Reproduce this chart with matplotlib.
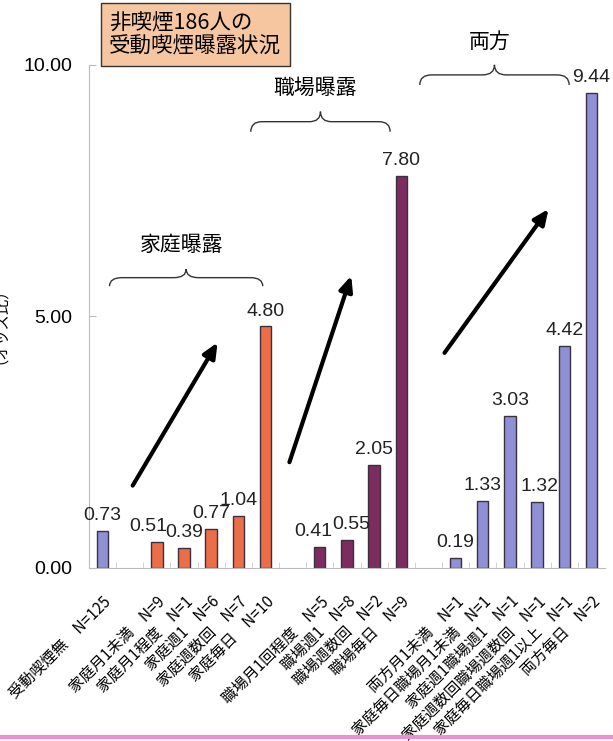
import matplotlib
matplotlib.use("Agg")
import matplotlib.pyplot as plt
from matplotlib.path import Path
from matplotlib.patches import PathPatch
import numpy as np

plt.rcParams['font.family'] = ['Noto Sans CJK JP', 'DejaVu Sans']
NUM_FONT = ['Liberation Sans Narrow', 'Liberation Sans', 'DejaVu Sans']

# category labels (blank = spacer slot between groups)
labels = [
    '受動喫煙無　N=125', '',
    '家庭月1未満　N=9', '家庭月1程度　N=1', '家庭週1　N=6', '家庭週数回　N=7', '家庭毎日　N=10', '',
    '職場月1回程度　N=5', '職場週1　N=8', '職場週数回　N=2', '職場毎日　N=9', '',
    '両方月1未満　N=1', '家庭毎日職場月1未満　N=1', '家庭週1職場週1　N=1',
    '家庭週数回職場週数回　N=1', '家庭毎日職場週1以上　N=1', '両方毎日　N=2',
]
values = [0.73, None, 0.51, 0.39, 0.77, 1.04, 4.80, None,
          0.41, 0.55, 2.05, 7.80, None,
          0.19, 1.33, 3.03, 1.32, 4.42, 9.44]
groups = ['none', None, 'home', 'home', 'home', 'home', 'home', None,
          'work', 'work', 'work', 'work', None,
          'both', 'both', 'both', 'both', 'both', 'both']

group_colors = {'none': '#8f90d6', 'home': '#ec6e48', 'work': '#7c2c5e', 'both': '#8f90d6'}

# small sideways nudges (points) for crowded value labels
label_nudge = {2: -6, 8: -5, 9: 3, 16: 2}


def brace(ax, x0, x1, y, h):
    """Curly brace opening downward, tip pointing up."""
    xm = (x0 + x1) / 2
    r = (x1 - x0) * 0.08
    verts = [(x0, y - h), (x0, y), (x0 + r, y),
             (xm - r, y), (xm, y), (xm, y + h),
             (xm, y), (xm + r, y),
             (x1 - r, y), (x1, y), (x1, y - h)]
    codes = [Path.MOVETO, Path.CURVE3, Path.CURVE3,
             Path.LINETO, Path.CURVE3, Path.CURVE3,
             Path.CURVE3, Path.CURVE3,
             Path.LINETO, Path.CURVE3, Path.CURVE3]
    ax.add_patch(PathPatch(Path(verts, codes), fill=False, lw=1.0,
                           edgecolor='#333333', clip_on=False))


fig = plt.figure(figsize=(6.13, 7.41), dpi=100)
ax = fig.add_axes([0.145, 0.2335, 0.842, 0.679])

x = np.arange(len(labels))
for xi, v, g in zip(x, values, groups):
    if v is None:
        continue
    ax.bar(xi, v, width=0.42, color=group_colors[g], edgecolor='#3a3040', linewidth=1.0)
    ax.annotate(f'{v:.2f}', (xi, v), xytext=(label_nudge.get(xi, 0), 5),
                textcoords='offset points', ha='center', va='bottom',
                fontsize=14, family=NUM_FONT, color='#222222')

ax.set_xlim(-0.5, len(labels) - 0.5)
ax.set_ylim(0, 10)
ax.set_yticks([0, 5, 10])
ax.set_yticklabels(['0.00', '5.00', '10.00'], fontsize=14, family=NUM_FONT)
ax.tick_params(axis='y', direction='in', length=5, color='#bbbbbb', pad=12)

ax.set_xticks(x)
ax.set_xticklabels(labels, rotation=45, ha='right', va='top',
                   rotation_mode='anchor', fontsize=11)
ax.tick_params(axis='x', length=0, pad=18)
ax.set_xticks(np.arange(len(labels) - 1) + 0.5, minor=True)
ax.tick_params(axis='x', which='minor', length=4, color='#cccccc', direction='in')

for s in ['top', 'right']:
    ax.spines[s].set_visible(False)
for s in ['left', 'bottom']:
    ax.spines[s].set_color('#bbbbbb')

# trend arrows
arrows = [((1.06, 1.59), (4.29, 4.53)),
          ((6.85, 2.05), (9.19, 5.86)),
          ((12.53, 4.23), (16.48, 7.18))]
for start, end in arrows:
    ax.annotate('', xy=end, xytext=start,
                arrowprops=dict(arrowstyle='-|>,head_length=0.9,head_width=0.4',
                                lw=3, color='black'))

# group braces and titles
brace(ax, 0.26, 5.9, 5.77, 0.17)
ax.text(2.9, 6.42, '家庭曝露', ha='center', va='center', fontsize=15)
brace(ax, 5.46, 10.59, 8.87, 0.2)
ax.text(7.84, 9.54, '職場曝露', ha='center', va='center', fontsize=15)
brace(ax, 11.68, 17.18, 9.80, 0.2)
ax.text(14.25, 10.46, '両方', ha='center', va='center', fontsize=15, clip_on=False)

# title box
fig.text(0.178, 0.953, '非喫煙186人の\n受動喫煙曝露状況', ha='left', va='center',
         fontsize=15.5, linespacing=1.1,
         bbox=dict(boxstyle='square,pad=0.4', facecolor='#f6c6a0', edgecolor='#333333', lw=1))

# y label, cut off by the left edge as in the source
fig.text(-0.013, 0.57, '（オッズ比）', rotation=90, ha='center', va='center', fontsize=11)

# pink rule at bottom
fig.add_artist(plt.Line2D([0, 1], [0.006, 0.006], transform=fig.transFigure,
                          color='#f08cd0', lw=3))

fig.savefig('out.png', dpi=100)
